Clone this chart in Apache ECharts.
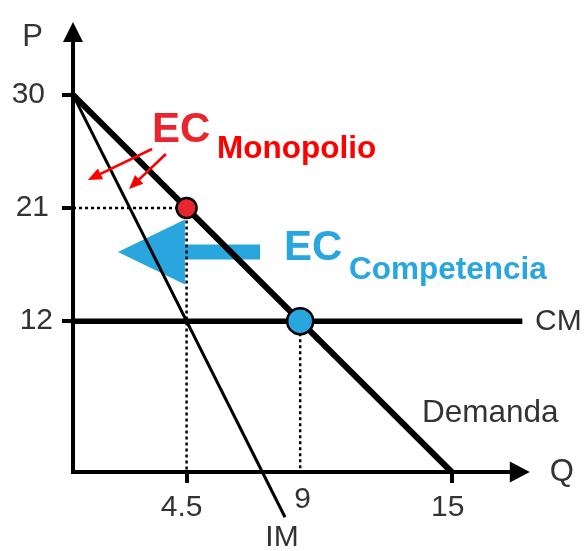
<!DOCTYPE html>
<html>
<head>
<meta charset="utf-8">
<script src="https://cdn.jsdelivr.net/npm/echarts@6/dist/echarts.min.js"></script>
<style>
  html, body { margin: 0; padding: 0; background: #ffffff; }
  #chart { width: 584px; height: 551px; }
</style>
</head>
<body>
<div id="chart"></div>
<script>
// Curves: quantity (Q) and price (P) end points
const demandQ = [0, 15];
const demandP = [30, 0];
const imQ = [0, 8.4];          // ingreso marginal, drawn past the Q axis
const imP = [30, -3.6];
const cmQ = [0, 17.8];
const cmP = [12, 12];

// Equilibria
const monopolyPoint = [4.5, 21];
const competitionPoint = [9, 12];

// Axis ticks and labels
const xTickValues = [4.5, 15];
const xLabelValues = [4.5, 9, 15];
const yTickValues = [12, 21, 30];

// Annotation arrows: [fromQ, fromP, toQ, toP]
const redArrows = [
  [3.13, 25.69, 0.59, 23.23],
  [3.68, 25.30, 2.22, 22.51]
];
const blueArrows = [
  [7.41, 17.5, 1.78, 17.5]
];

const FONT = '"Liberation Sans", Arial, Helvetica, sans-serif';
const GRAY = '#333333';
const RED = '#E9262E';
const BRIGHT_RED = '#FF0000';
const BLUE = '#29A6DE';

function pairs(xs, ys) {
  return xs.map((x, i) => [x, ys[i]]);
}

// Polygon arrow (shaft + triangular head) between two data points
function arrowRenderer(shaft, headLen, headHalf, color) {
  return function (params, api) {
    const a = api.coord([api.value(0), api.value(1)]);
    const b = api.coord([api.value(2), api.value(3)]);
    const dx = b[0] - a[0], dy = b[1] - a[1];
    const len = Math.hypot(dx, dy);
    const ux = dx / len, uy = dy / len;
    const nx = -uy, ny = ux;
    const bx = b[0] - ux * headLen, by = b[1] - uy * headLen;
    const s = shaft / 2;
    return {
      type: 'polygon',
      shape: {
        points: [
          [a[0] + nx * s, a[1] + ny * s],
          [bx + nx * s, by + ny * s],
          [bx + nx * headHalf, by + ny * headHalf],
          [b[0], b[1]],
          [bx - nx * headHalf, by - ny * headHalf],
          [bx - nx * s, by - ny * s],
          [a[0] - nx * s, a[1] - ny * s]
        ]
      },
      style: { fill: color }
    };
  };
}

const xPad = { 4.5: 10, 9: 0, 15: 8 };
const yPad = { 12: 0, 21: 4, 30: 8 };

const chart = echarts.init(document.getElementById('chart'), null, { renderer: 'canvas' });

chart.setOption({
  animation: false,
  backgroundColor: '#ffffff',
  grid: {
    left: 73, top: 32, width: 446.8, height: 440,
    containLabel: false, outerBoundsMode: 'none'
  },
  xAxis: {
    type: 'value', min: 0, max: 17.7,
    name: 'Q', nameLocation: 'end', nameGap: 30,
    nameTextStyle: { fontFamily: FONT, fontSize: 31, color: GRAY, align: 'left', verticalAlign: 'middle' },
    axisLine: {
      show: true, onZero: false,
      symbol: ['none', 'triangle'], symbolSize: [21, 20],
      lineStyle: { color: '#000', width: 4, cap: 'square' }
    },
    axisTick: {
      show: true, inside: false, length: 11, customValues: xTickValues,
      lineStyle: { color: '#000', width: 4 }
    },
    axisLabel: {
      show: true, margin: 21, customValues: xLabelValues,
      formatter: v => (v === 9 ? '{up|9}' : '{n' + String(v).replace('.', '') + '|' + v + '}'),
      rich: {
        n45: { fontFamily: FONT, fontSize: 30, color: GRAY, lineHeight: 30, padding: [0, xPad[4.5], 0, 0] },
        n15: { fontFamily: FONT, fontSize: 30, color: GRAY, lineHeight: 30, padding: [0, xPad[15], 0, 0] },
        up: { fontFamily: FONT, fontSize: 30, color: GRAY, lineHeight: 14, padding: [0, 0, 0, 5] }
      }
    },
    splitLine: { show: false }
  },
  yAxis: {
    type: 'value', min: 0, max: 35,
    name: 'P', nameLocation: 'end', nameGap: -5,
    nameTextStyle: { fontFamily: FONT, fontSize: 31, color: GRAY, align: 'right', verticalAlign: 'middle', padding: [0, 30, 0, 0] },
    axisLine: {
      show: true, onZero: false,
      symbol: ['none', 'triangle'], symbolSize: [20, 20],
      lineStyle: { color: '#000', width: 4, cap: 'square' }
    },
    axisTick: {
      show: true, inside: false, length: 11, customValues: yTickValues,
      lineStyle: { color: '#000', width: 4 }
    },
    axisLabel: {
      show: true, margin: 20, customValues: yTickValues,
      formatter: v => '{y' + v + '|' + v + '}',
      rich: {
        y12: { fontFamily: FONT, fontSize: 30, color: GRAY, padding: [0, yPad[12], 0, 0] },
        y21: { fontFamily: FONT, fontSize: 30, color: GRAY, padding: [0, yPad[21], 0, 0] },
        y30: { fontFamily: FONT, fontSize: 30, color: GRAY, padding: [0, yPad[30], 0, 0] }
      }
    },
    splitLine: { show: false }
  },
  series: [
    {
      name: 'Competencia arrow', type: 'custom', z: 1,
      renderItem: arrowRenderer(15, 67, 32.5, BLUE),
      encode: { x: [0, 2], y: [1, 3] },
      data: blueArrows
    },
    {
      name: 'Guías', type: 'line', z: 2, symbol: 'none', silent: true,
      lineStyle: { color: '#000', width: 2.5, type: [3, 3] },
      data: [[0, monopolyPoint[1]], monopolyPoint, [monopolyPoint[0], 0]]
    },
    {
      name: 'Guía competencia', type: 'line', z: 2, symbol: 'none', silent: true,
      lineStyle: { color: '#000', width: 2.5, type: [3, 3] },
      data: [competitionPoint, [competitionPoint[0], 0]]
    },
    {
      name: 'IM', type: 'line', z: 3, symbol: 'none', clip: false,
      lineStyle: { color: '#000', width: 3 },
      data: pairs(imQ, imP)
    },
    {
      name: 'CM', type: 'line', z: 3, symbol: 'none', clip: false,
      lineStyle: { color: '#000', width: 5.5 },
      data: pairs(cmQ, cmP)
    },
    {
      name: 'Demanda', type: 'line', z: 3, symbol: 'none',
      lineStyle: { color: '#000', width: 6 },
      data: pairs(demandQ, demandP)
    },
    {
      name: 'Monopolio', type: 'scatter', z: 5,
      symbolSize: 20,
      itemStyle: { color: RED, borderColor: '#000', borderWidth: 2.5, opacity: 1 },
      data: [monopolyPoint]
    },
    {
      name: 'Competencia', type: 'scatter', z: 5,
      symbolSize: 26,
      itemStyle: { color: BLUE, borderColor: '#000', borderWidth: 2.5, opacity: 1 },
      data: [competitionPoint]
    },
    {
      name: 'Monopolio arrows', type: 'custom', z: 6,
      renderItem: arrowRenderer(2.6, 14, 6, BRIGHT_RED),
      encode: { x: [0, 2], y: [1, 3] },
      data: redArrows
    }
  ],
  graphic: [
    { type: 'text', x: 152, y: 130, z: 10, style: { text: 'EC', fontFamily: FONT, fontSize: 42, fontWeight: 'bold', fill: RED, align: 'left', verticalAlign: 'middle' } },
    { type: 'text', x: 217, y: 149, z: 10, style: { text: 'Monopolio', fontFamily: FONT, fontSize: 31.5, fontWeight: 'bold', fill: BRIGHT_RED, align: 'left', verticalAlign: 'middle' } },
    { type: 'text', x: 284, y: 248, z: 10, style: { text: 'EC', fontFamily: FONT, fontSize: 42, fontWeight: 'bold', fill: BLUE, align: 'left', verticalAlign: 'middle' } },
    { type: 'text', x: 349, y: 270, z: 10, style: { text: 'Competencia', fontFamily: FONT, fontSize: 31.5, fontWeight: 'bold', fill: BLUE, align: 'left', verticalAlign: 'middle' } },
    { type: 'text', x: 422, y: 413, z: 10, style: { text: 'Demanda', fontFamily: FONT, fontSize: 31.5, fill: GRAY, align: 'left', verticalAlign: 'middle' } },
    { type: 'text', x: 535, y: 322, z: 10, style: { text: 'CM', fontFamily: FONT, fontSize: 30, fill: GRAY, align: 'left', verticalAlign: 'middle' } },
    { type: 'text', x: 282, y: 538, z: 10, style: { text: 'IM', fontFamily: FONT, fontSize: 30, fill: GRAY, align: 'center', verticalAlign: 'middle' } }
  ]
});
</script>
</body>
</html>
